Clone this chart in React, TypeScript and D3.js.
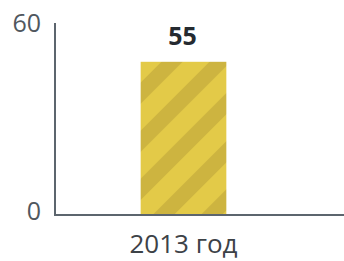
import { useRef, useEffect } from "react";
import * as d3 from "d3";

const categories = ["2013 год"];
const values = [55];
const yTicks = [0, 60];

export default function App() {
  const svgRef = useRef<SVGSVGElement>(null);

  useEffect(() => {
    if (!svgRef.current) return;
    const svg = d3.select(svgRef.current);
    svg.selectAll("*").remove();

    const width = 344;
    const height = 261;
    const margin = { top: 24, right: 0, bottom: 46, left: 55 };
    const innerW = width - margin.left - margin.right;
    const innerH = height - margin.top - margin.bottom;

    svg.attr("viewBox", `0 0 ${width} ${height}`);

    const defs = svg.append("defs");
    const pat = defs
      .append("pattern")
      .attr("id", "stripes")
      .attr("patternUnits", "userSpaceOnUse")
      .attr("width", 34)
      .attr("height", 34)
      .attr("patternTransform", "rotate(45)");
    pat.append("rect").attr("width", 34).attr("height", 34).attr("fill", "#e3ca48");
    pat.append("rect").attr("width", 15).attr("height", 34).attr("fill", "#cdb440");

    const g = svg
      .append("g")
      .attr("transform", `translate(${margin.left},${margin.top})`);

    const x = d3
      .scaleBand()
      .domain(categories)
      .range([0, innerW - 32])
      .padding(0.5);
    // axis labels sit at the very top of the axis line; the bar itself
    // is drawn a little lower, as in the source picture
    const yAxis = d3.scaleLinear().domain([0, 60]).range([innerH, 0]);
    const y = d3.scaleLinear().domain([0, 60]).range([innerH, innerH * 0.125]);

    // Bars
    g.selectAll("rect.bar")
      .data(values)
      .join("rect")
      .attr("class", "bar")
      .attr("x", (_, i) => x(categories[i]) ?? 0)
      .attr("y", (d) => y(d))
      .attr("width", x.bandwidth())
      .attr("height", (d) => innerH - y(d))
      .attr("fill", "url(#stripes)");

    // Value labels
    g.selectAll("text.val")
      .data(values)
      .join("text")
      .attr("class", "val")
      .attr("x", (_, i) => (x(categories[i]) ?? 0) + x.bandwidth() / 2 - 1)
      .attr("y", (d) => y(d) - 17)
      .attr("text-anchor", "middle")
      .style("font-family", "'Open Sans', sans-serif")
      .style("font-weight", "700")
      .style("font-size", "25px")
      .style("fill", "#252a30")
      .text((d) => d);

    // Axis lines
    g.append("line")
      .attr("x1", 0)
      .attr("x2", 0)
      .attr("y1", yAxis(60) - 1)
      .attr("y2", innerH)
      .attr("stroke", "#5c656e")
      .attr("stroke-width", 2);
    g.append("line")
      .attr("x1", -1)
      .attr("x2", innerW)
      .attr("y1", innerH)
      .attr("y2", innerH)
      .attr("stroke", "#5c656e")
      .attr("stroke-width", 2);

    // Y tick labels
    g.selectAll("text.tick")
      .data(yTicks)
      .join("text")
      .attr("class", "tick")
      .attr("x", -14)
      .attr("y", (d) => yAxis(d) + (d === 0 ? 5 : 8))
      .attr("text-anchor", "end")
      .style("font-family", "'Open Sans', sans-serif")
      .style("font-size", "25px")
      .style("fill", "#50575e")
      .text((d) => d);

    // Category labels
    g.selectAll("text.cat")
      .data(categories)
      .join("text")
      .attr("class", "cat")
      .attr("x", (d) => (x(d) ?? 0) + x.bandwidth() / 2)
      .attr("y", innerH + 38)
      .attr("text-anchor", "middle")
      .style("font-family", "'Open Sans', sans-serif")
      .style("font-size", "26px")
      .style("fill", "#3d4247")
      .text((d) => d);

    return () => {
      svg.selectAll("*").remove();
    };
  }, []);

  return (
    <svg
      ref={svgRef}
      width={344}
      height={261}
      style={{ position: "absolute", left: 0, top: 0, background: "#fff" }}
    />
  );
}
